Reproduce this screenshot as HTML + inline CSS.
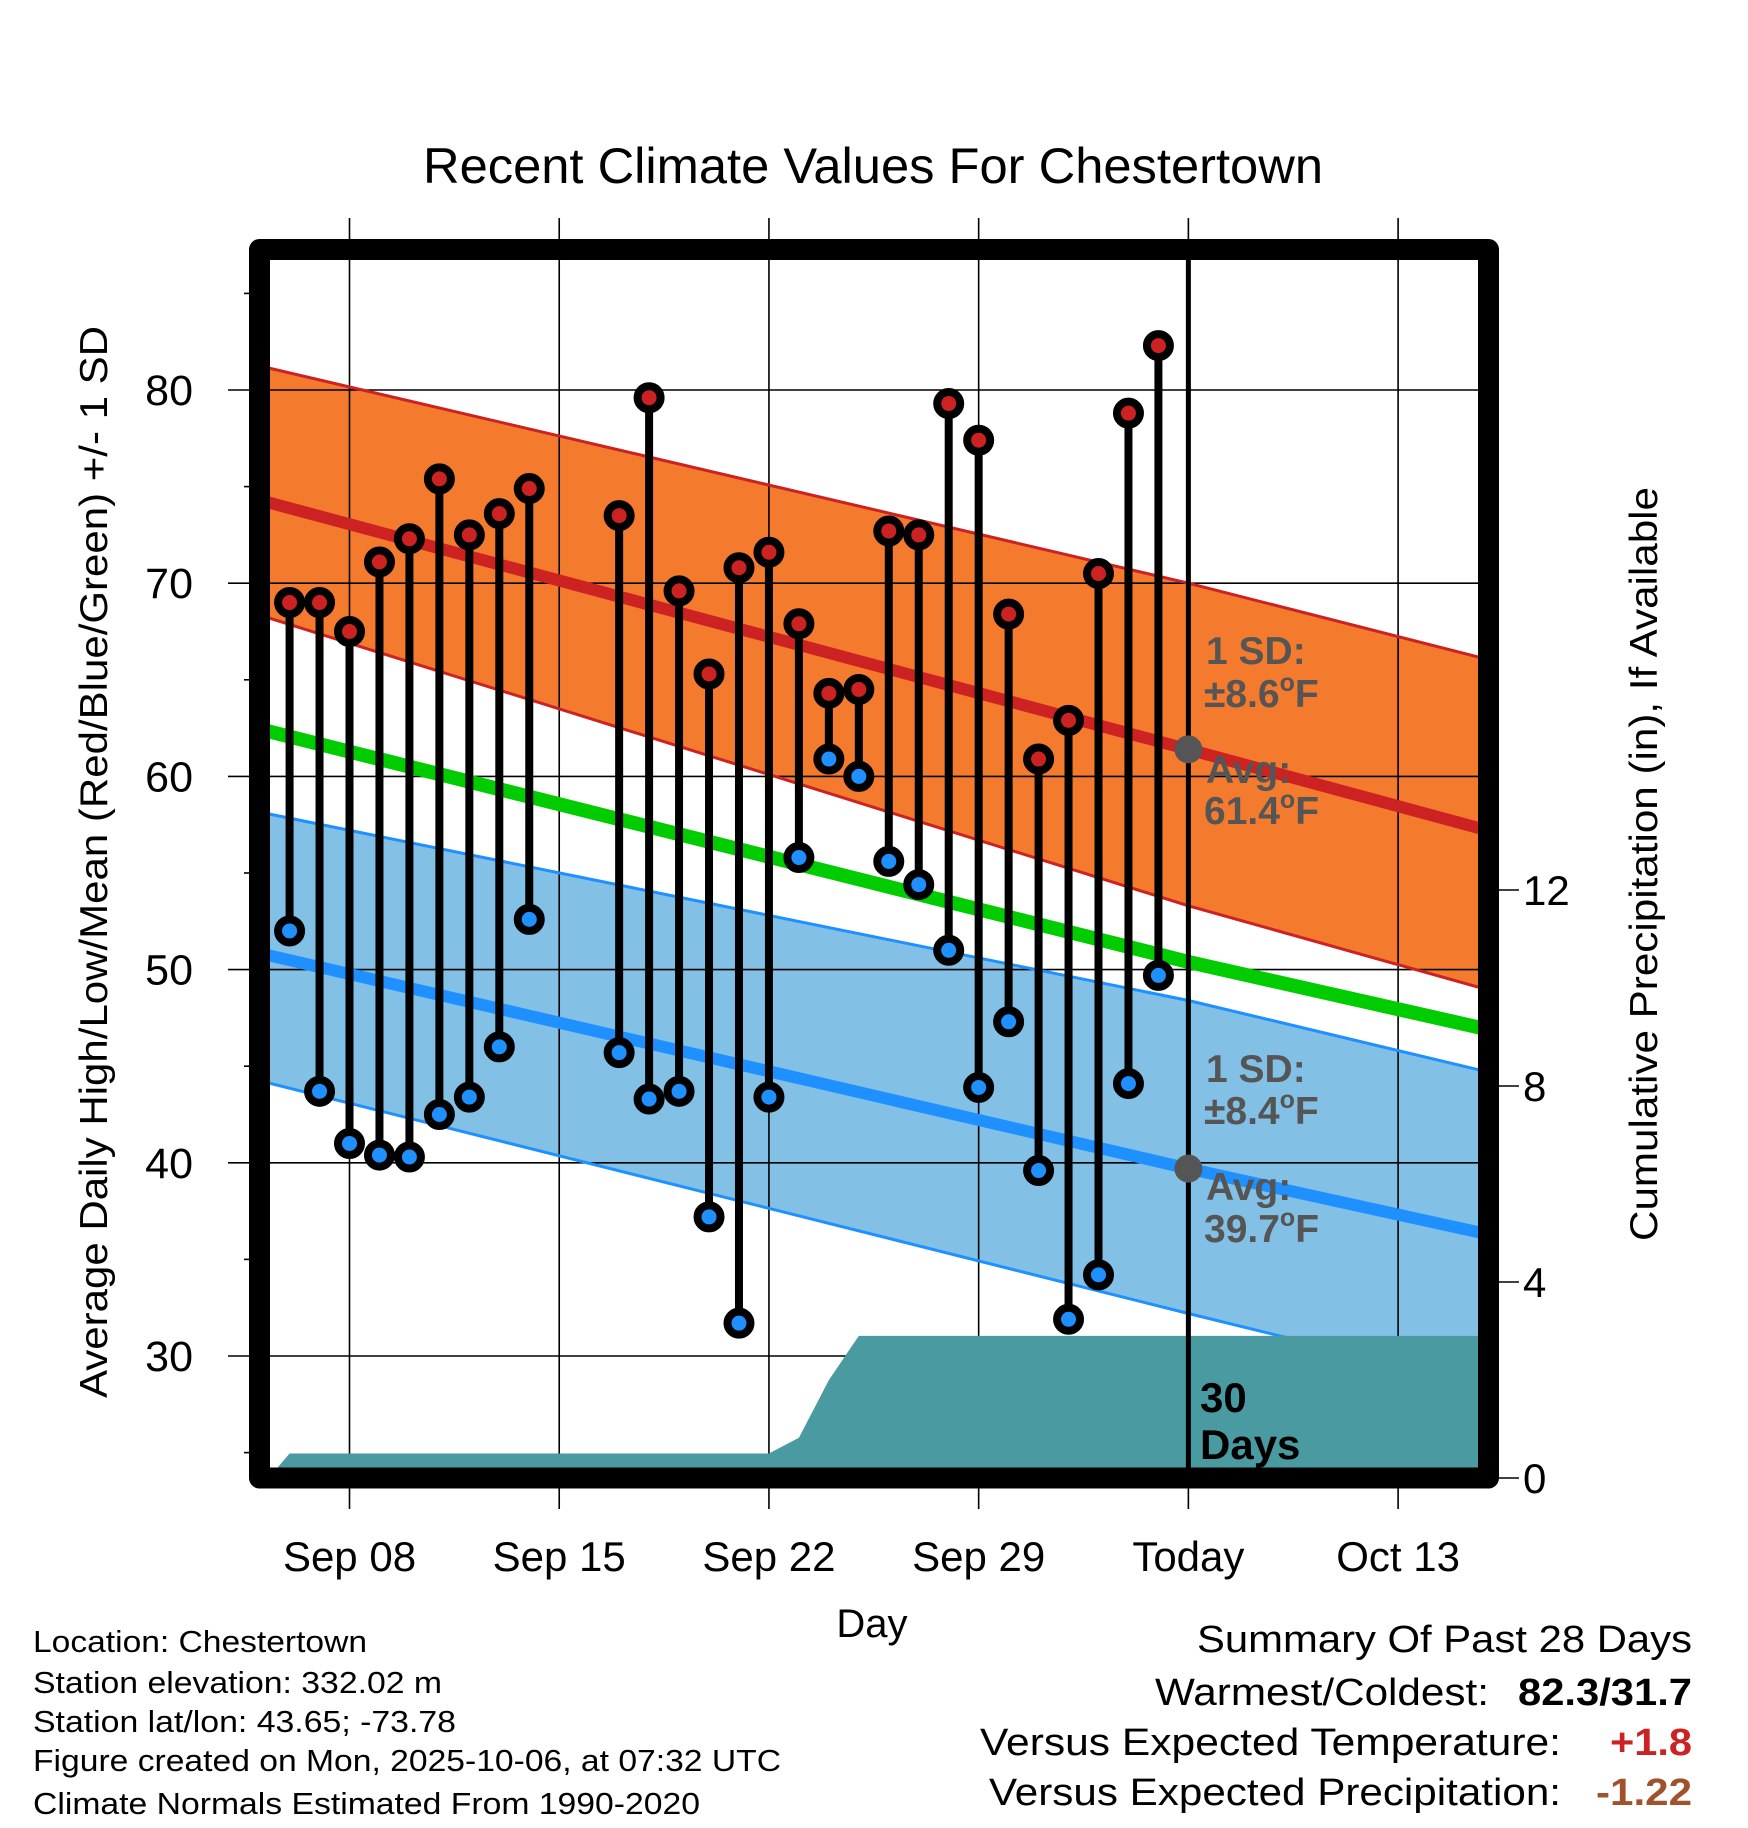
<!DOCTYPE html>
<html><head><meta charset="utf-8"><style>
html,body{margin:0;padding:0;background:#fff;}
svg{display:block;font-family:"Liberation Sans",Arial,sans-serif;}
</style></head><body>
<svg id="chart" xmlns="http://www.w3.org/2000/svg" width="1748" height="1828" viewBox="0 0 1748 1828">
<defs><clipPath id="plotclip"><rect x="270" y="260" width="1208" height="1208"/></clipPath></defs>
<g id="fills" clip-path="url(#plotclip)"></g>
<g id="grid"></g>
<g id="lines" clip-path="url(#plotclip)"></g>
<g id="precip" clip-path="url(#plotclip)"></g>
<g id="marks"></g>
<g id="labels"></g>
<rect x="259.5" y="249.5" width="1229" height="1228.5" fill="none" stroke="#000" stroke-width="21" stroke-linejoin="round"/>
<text x="423" y="183" font-size="50" textLength="900" lengthAdjust="spacingAndGlyphs">Recent Climate Values For Chestertown</text>
<text x="872" y="1637" font-size="40" text-anchor="middle">Day</text>
<text transform="translate(107,862) rotate(-90)" font-size="39" text-anchor="middle" textLength="1072" lengthAdjust="spacingAndGlyphs">Average Daily High/Low/Mean (Red/Blue/Green) +/- 1 SD</text>
<text transform="translate(1657,864) rotate(-90)" font-size="39" text-anchor="middle" textLength="754" lengthAdjust="spacingAndGlyphs">Cumulative Precipitation (in), If Available</text>
<g font-size="31">
<text x="33" y="1652" textLength="334" lengthAdjust="spacingAndGlyphs">Location: Chestertown</text>
<text x="33" y="1693" textLength="409" lengthAdjust="spacingAndGlyphs">Station elevation: 332.02 m</text>
<text x="33" y="1732" textLength="423" lengthAdjust="spacingAndGlyphs">Station lat/lon: 43.65; -73.78</text>
<text x="33" y="1771" textLength="748" lengthAdjust="spacingAndGlyphs">Figure created on Mon, 2025-10-06, at 07:32 UTC</text>
<text x="33" y="1814" textLength="667" lengthAdjust="spacingAndGlyphs">Climate Normals Estimated From 1990-2020</text>
</g>
<g font-size="38">
<text x="1692" y="1652" text-anchor="end" textLength="495" lengthAdjust="spacingAndGlyphs">Summary Of Past 28 Days</text>
<text x="1155" y="1705" textLength="334" lengthAdjust="spacingAndGlyphs">Warmest/Coldest:</text>
<text x="1518" y="1705" font-weight="bold" textLength="174" lengthAdjust="spacingAndGlyphs">82.3/31.7</text>
<text x="980" y="1755" textLength="581" lengthAdjust="spacingAndGlyphs">Versus Expected Temperature:</text>
<text x="1610" y="1755" font-weight="bold" fill="#cc2222" textLength="82" lengthAdjust="spacingAndGlyphs">+1.8</text>
<text x="989" y="1805" textLength="572" lengthAdjust="spacingAndGlyphs">Versus Expected Precipitation:</text>
<text x="1596" y="1805" font-weight="bold" fill="#a0522d" textLength="96" lengthAdjust="spacingAndGlyphs">-1.22</text>
</g>
</svg>
<script>
// days relative to Sep 08
const obsDays = [-2,-1,0,1,2,3,4,5,6,9,10,11,12,13,14,15,16,17,18,19,20,21,22,23,24,25,26,27];
const highs = [69.0,69.0,67.5,71.1,72.3,75.4,72.5,73.6,74.9,73.5,79.6,69.6,65.3,70.8,71.6,67.9,64.3,64.5,72.7,72.5,79.3,77.4,68.4,60.9,62.9,70.5,78.8,82.3];
const lows = [52.0,43.7,41.0,40.4,40.3,42.5,43.4,46.0,52.6,45.7,43.3,43.7,37.2,31.7,43.4,55.8,60.9,60.0,55.6,54.4,51.0,43.9,47.3,39.6,31.9,34.2,44.1,49.7];
const normDays = [-3,28,38];
const hiAvg = [74.3,61.4,57.2];
const hiUpper = [81.25,70.0,66.05];
const hiLower = [68.35,53.3,48.95];
const meanAvg = [62.45,50.4,46.9];
const loAvg = [50.85,39.7,36.3];
const loUpper = [58.15,48.4,44.7];
const loLower = [44.25,32.2,28.4];
const precipDays = [-2.7,-2,14,15,16,17,38];
const precipVals = [0,0.5,0.5,0.82,2.0,2.9,2.9];
const xTickDays = [0,7,14,21,28,35];
const xTickLabels = ["Sep 08","Sep 15","Sep 22","Sep 29","Today","Oct 13"];
const yTicks = [30,40,50,60,70,80];
const pTicks = [0,4,8,12];
const todayDay = 28;

const NS="http://www.w3.org/2000/svg";
function X(d){return 349.5+d*29.96;}
function Y(t){return 390+(80-t)*19.32;}
function P(p){return 1478-p*49.0;}
function mk(tag,attrs,parent){const e=document.createElementNS(NS,tag);for(const k in attrs)e.setAttribute(k,attrs[k]);parent.appendChild(e);return e;}
function pts(days,vals){return days.map((d,i)=>X(d).toFixed(1)+","+Y(vals[i]).toFixed(1));}
function normAt(vals,d){for(let i=0;i<normDays.length-1;i++){if(d<=normDays[i+1]||i===normDays.length-2){const f=(d-normDays[i])/(normDays[i+1]-normDays[i]);return vals[i]+f*(vals[i+1]-vals[i]);}}}

const fills=document.getElementById('fills'),grid=document.getElementById('grid'),lines=document.getElementById('lines'),precip=document.getElementById('precip'),marks=document.getElementById('marks'),labels=document.getElementById('labels');

const hb=mk('polygon',{points:pts(normDays,hiUpper).concat(pts(normDays.slice().reverse(),hiLower.slice().reverse())).join(' '),fill:'#f47a2e'},fills);


const lb=mk('polygon',{points:pts(normDays,loUpper).concat(pts(normDays.slice().reverse(),loLower.slice().reverse())).join(' '),fill:'#82c0e6'},fills);



xTickDays.forEach((d,i)=>{
  const l=mk('line',{x1:X(d),x2:X(d),y1:218,y2:1509,stroke:'#000','stroke-width':1.6},grid);
  
  
  const t=mk('text',{x:X(d),y:1571,'font-size':42,'text-anchor':'middle'},labels);
  t.textContent=xTickLabels[i];
  
  
});
yTicks.forEach(v=>{
  const l=mk('line',{x1:228,x2:1478,y1:Y(v),y2:Y(v),stroke:'#000','stroke-width':1.6},grid);
  
  
  const t=mk('text',{x:193,y:Y(v)+15,'font-size':43,'text-anchor':'end'},labels);
  t.textContent=v;
  
  
});
for(let v=25;v<=85;v+=10){
  const l=mk('line',{x1:244,x2:260,y1:Y(v),y2:Y(v),stroke:'#000','stroke-width':1.6},grid);
  
  
}
pTicks.forEach(v=>{
  const l=mk('line',{x1:1488,x2:1519,y1:P(v),y2:P(v),stroke:'#000','stroke-width':1.6},grid);
  
  
  const t=mk('text',{x:1523,y:P(v)+15,'font-size':42},labels);
  t.textContent=v;
  
  
});

function pl(vals,color,w,name){
  const e=mk('polyline',{points:pts(normDays,vals).join(' '),fill:'none',stroke:color,'stroke-width':w},lines);
  
  
}
pl(hiUpper,'#cc2222',3,'high-upper-sd-line');
pl(hiLower,'#cc2222',3,'high-lower-sd-line');
pl(loUpper,'#1e90ff',3,'low-upper-sd-line');
pl(loLower,'#1e90ff',3,'low-lower-sd-line');
pl(hiAvg,'#cc2222',12,'high-average-line');
pl(meanAvg,'#00cc00',14,'mean-average-line');
pl(loAvg,'#1e90ff',12,'low-average-line');

const pp=precipDays.map((d,i)=>X(d).toFixed(1)+","+P(precipVals[i]).toFixed(1));
pp.push(X(precipDays[precipDays.length-1]).toFixed(1)+","+P(0));
pp.push(X(precipDays[0]).toFixed(1)+","+P(0));
const pe=mk('polygon',{points:pp.join(' '),fill:'#4a9aa2'},precip);



const tl=mk('line',{x1:X(todayDay),x2:X(todayDay),y1:260,y2:1468,stroke:'#000','stroke-width':5},marks);



obsDays.forEach((d,i)=>{
  const x=X(d);
  const s=mk('line',{x1:x,x2:x,y1:Y(highs[i]),y2:Y(lows[i]),stroke:'#000','stroke-width':8},marks);
  
  
});
obsDays.forEach((d,i)=>{
  const x=X(d);
  const h=mk('circle',{cx:x,cy:Y(highs[i]),r:11.5,fill:'#cc2222',stroke:'#000','stroke-width':8},marks);
  
  
  const l=mk('circle',{cx:x,cy:Y(lows[i]),r:11.5,fill:'#1e90ff',stroke:'#000','stroke-width':8},marks);
  
  
});

[[hiAvg,'today-high-average-dot'],[loAvg,'today-low-average-dot']].forEach(([vals,name])=>{
  const c=mk('circle',{cx:X(todayDay),cy:Y(normAt(vals,todayDay)),r:14,fill:'#555'},marks);
  
  
});

function ann(x,y,txt,name,color,sup,fs){
  const t=mk('text',{x:x,y:y,'font-size':fs,'font-weight':'bold',fill:color},labels);
  
  
  if(sup){
    t.appendChild(document.createTextNode(txt));
    const s=mk('tspan',{'font-size':Math.round(fs*0.65),dy:-16},t);s.textContent='o';
    const f=mk('tspan',{dy:16},t);f.textContent='F';
  } else t.textContent=txt;
}
ann(1206,664,'1 SD:','high-sd-label','#555',false,39);
ann(1204,707,'\u00b18.6','high-sd-value','#555',true,39);
ann(1206,783,'Avg:','high-avg-label','#555',false,39);
ann(1204,824,'61.4','high-avg-value','#555',true,39);
ann(1206,1082,'1 SD:','low-sd-label','#555',false,39);
ann(1204,1124,'\u00b18.4','low-sd-value','#555',true,39);
ann(1206,1200,'Avg:','low-avg-label','#555',false,39);
ann(1204,1242,'39.7','low-avg-value','#555',true,39);
ann(1200,1412,'30','days-count','#000',false,42);
ann(1200,1459,'Days','days-label','#000',false,42);
</script>
</body></html>
